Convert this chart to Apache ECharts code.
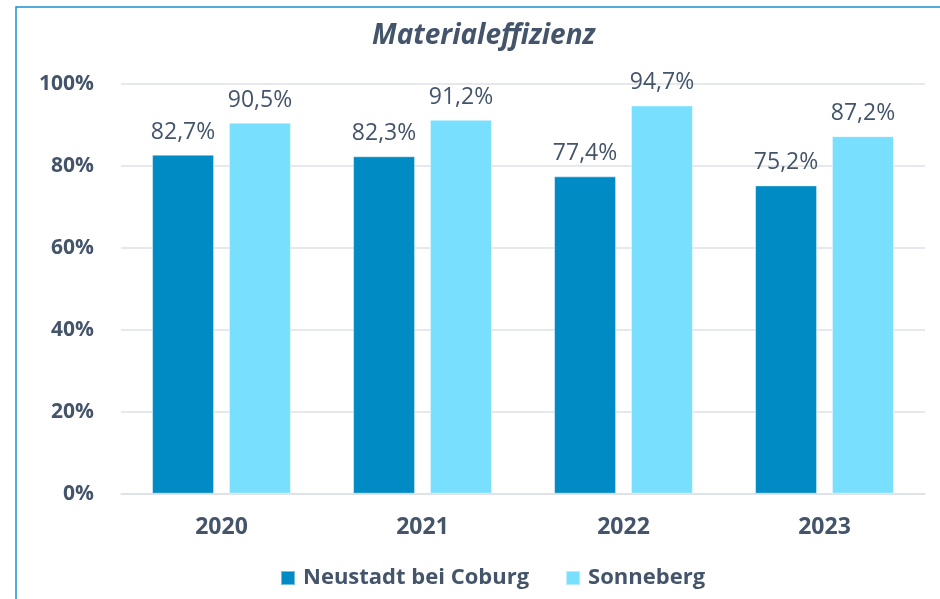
<!DOCTYPE html>
<html>
<head>
<meta charset="utf-8">
<script src="https://cdn.jsdelivr.net/npm/echarts@6/dist/echarts.min.js"></script>
<style>
  html, body { margin: 0; padding: 0; background: #fff; }
  #chart { width: 940px; height: 599px; }
</style>
</head>
<body>
<div id="chart"></div>
<script>
// Materialeffizienz per site and year (percent)
const years = ['2020', '2021', '2022', '2023'];
const neustadt = [82.7, 82.3, 77.4, 75.2];
const sonneberg = [90.5, 91.2, 94.7, 87.2];
const seriesNames = ['Neustadt bei Coburg', 'Sonneberg'];
const yTicks = { min: 0, max: 100, interval: 20 };

const textColor = '#44546a';
const fontFamily = '"Open Sans", "DejaVu Sans", sans-serif';
const fmtPct = v => v.toFixed(1).replace('.', ',') + '%';

const chart = echarts.init(document.getElementById('chart'), null, { renderer: 'canvas' });

const labelStyle = {
  show: true,
  position: 'top',
  distance: 11,
  color: textColor,
  fontFamily: fontFamily,
  fontSize: 23,
  formatter: p => fmtPct(p.value)
};

chart.setOption({
  backgroundColor: '#ffffff',
  animation: false,
  textStyle: { fontFamily: fontFamily },
  graphic: [{
    type: 'rect',
    shape: { x: 16, y: 7, width: 1000, height: 700 },
    style: { fill: 'none', stroke: '#1b8ed1', lineWidth: 1.5 },
    silent: true
  }],
  title: {
    text: 'Materialeffizienz',
    left: 372,
    top: 22,
    padding: 0,
    textStyle: {
      fontFamily: fontFamily,
      fontSize: 28,
      fontWeight: 'bold',
      fontStyle: 'italic',
      color: textColor
    }
  },
  legend: {
    data: seriesNames,
    left: 280,
    top: 567,
    padding: 0,
    itemWidth: 14,
    itemHeight: 14,
    itemGap: 36,
    icon: 'rect',
    textStyle: {
      fontFamily: fontFamily,
      fontSize: 22,
      fontWeight: 'bold',
      color: textColor,
      padding: [0, 0, 0, 3]
    }
  },
  grid: { left: 121, right: 15, top: 83.7, bottom: 105.3, containLabel: false },
  xAxis: {
    type: 'category',
    data: years,
    axisLine: { show: true, lineStyle: { color: '#dde1e6', width: 1.5 } },
    axisTick: { show: false },
    axisLabel: {
      margin: 22,
      color: textColor,
      fontFamily: fontFamily,
      fontSize: 23,
      fontWeight: 'bold'
    }
  },
  yAxis: {
    type: 'value',
    min: yTicks.min,
    max: yTicks.max,
    interval: yTicks.interval,
    axisLine: { show: false },
    axisTick: { show: false },
    splitLine: { lineStyle: { color: '#dde1e6', width: 1.5 } },
    axisLabel: {
      margin: 27,
      color: textColor,
      fontFamily: fontFamily,
      fontSize: 21,
      fontWeight: 'bold',
      formatter: '{value}%'
    }
  },
  series: [
    {
      name: seriesNames[0],
      type: 'bar',
      data: neustadt,
      barWidth: 62,
      barGap: '24%',
      itemStyle: { color: '#008bc5', borderColor: 'rgba(255,255,255,0.45)', borderWidth: 1 },
      label: labelStyle
    },
    {
      name: seriesNames[1],
      type: 'bar',
      data: sonneberg,
      barWidth: 62,
      barGap: '24%',
      itemStyle: { color: '#79dffe', borderColor: 'rgba(255,255,255,0.45)', borderWidth: 1 },
      label: labelStyle
    }
  ]
});
</script>
</body>
</html>
